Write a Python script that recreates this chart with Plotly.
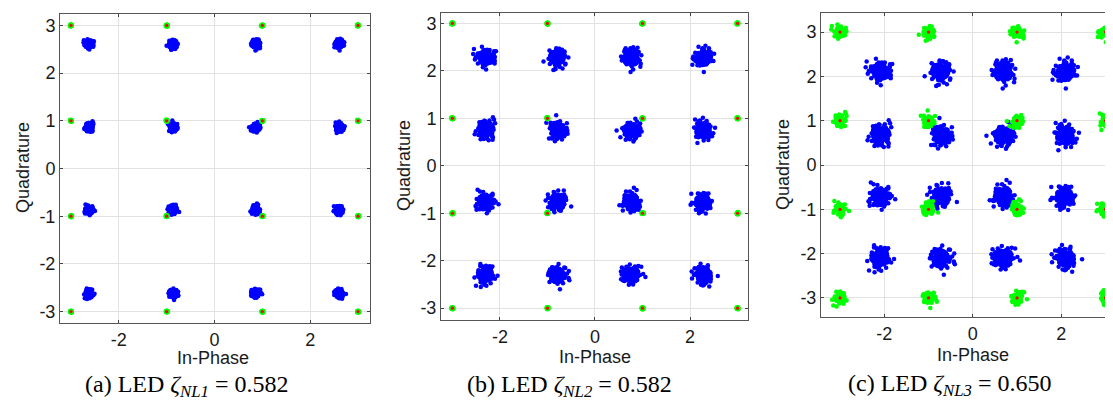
import math
import plotly.graph_objects as go

# ---------------- data ----------------
ideal_levels = [-3, -1, 1, 3]

# received cluster centres (In-Phase levels, Quadrature levels) per panel
blue_x_a = [-2.62, -0.87, 0.86, 2.61]
blue_y_a = [-2.62, -0.87, 0.87, 2.61]
blue_x_b = [-2.30, -0.79, 0.76, 2.28]
blue_y_b = [-2.30, -0.76, 0.76, 2.28]
blue_x_c = [-2.09, -0.72, 0.69, 2.09]
blue_y_c = [-2.10, -0.71, 0.68, 2.11]

# cloud spread (std, constellation units) per panel
spread_a = 0.045
spread_b = 0.1
spread_c = 0.125
green_spread_a = 0.008
green_spread_b = 0.008
green_spread_c = 0.075

# hand-written noise template in polar form (radius in std units, angle in degrees)
noise_r = [0.42, 1.35, 0.88, 2.05, 1.12, 0.25, 1.71, 0.63, 1.48, 0.95,
           2.42, 0.74, 1.20, 0.33, 1.86, 1.02, 0.55, 1.59, 2.75, 0.81,
           1.28, 0.47, 1.94, 1.07, 0.68, 1.41, 0.18, 2.21, 1.16, 0.90,
           1.63, 0.59, 1.33, 3.05, 0.77, 1.52, 0.38, 1.79, 1.24, 0.99,
           2.12, 0.52, 1.44, 0.85, 1.67, 0.29, 1.10, 2.55, 0.71, 1.37,
           0.93, 1.82, 0.45, 1.19, 2.30, 0.64, 1.55, 1.04, 0.36, 1.99]
noise_ang = [12, 217, 95, 301, 158, 43, 262, 129, 345, 74,
             193, 281, 27, 236, 110, 322, 167, 58, 248, 139,
             5, 205, 88, 313, 176, 35, 270, 121, 353, 66,
             184, 292, 19, 228, 102, 331, 149, 51, 257, 132,
             338, 81, 199, 306, 164, 24, 243, 116, 287, 70,
             211, 147, 356, 32, 274, 188, 98, 318, 226, 61]
# re-pairings of the template (angle index shift, relative scale)
pairings_blue = [(0, 1.0), (19, 0.82), (41, 0.62), (7, 0.42)]
pairings_green = [(0, 1.0)]

x_ticks = [-2, 0, 2]
x_tick_text = ["-2", "0", "2"]
y_ticks = [-3, -2, -1, 0, 1, 2, 3]
y_tick_text = ["-3", "-2", "-1", "0", "1", "2", "3"]

captions = ["(a) LED <i>ζ</i><sub><i>NL1</i></sub> = 0.582",
            "(b) LED <i>ζ</i><sub><i>NL2</i></sub> = 0.582",
            "(c) LED <i>ζ</i><sub><i>NL3</i></sub> = 0.650"]


def cloud(xs, ys, sd, n_pts, pairings):
    px, py = [], []
    k = 0
    n = len(noise_r)
    for yc in ys:
        for xc in xs:
            for shift, sc in pairings:
                for i in range(n_pts):
                    r = noise_r[i]
                    a = math.radians(noise_ang[(i + shift + 5 * k) % n] + 23 * k)
                    px.append(xc + sc * sd * r * math.cos(a))
                    py.append(yc + sc * sd * r * math.sin(a))
            k += 1
    return px, py


W, H = 1113, 401
panels = [
    dict(bx=blue_x_a, by=blue_y_a, sd=spread_a, gsd=green_spread_a,
         dom_x=(52, 362), dom_y=(6, 315), rx=[-3.23, 3.25], ry=[-3.24, 3.24],
         ylab=(15, 160), xlab=(205, 350), cap=(178, 362), fs=18, mirror_y=True),
    dict(bx=blue_x_b, by=blue_y_b, sd=spread_b, gsd=green_spread_b,
         dom_x=(433, 740), dom_y=(5, 312), rx=[-3.24, 3.22], ry=[-3.25, 3.22],
         ylab=(396, 158), xlab=(587, 349), cap=(561, 362), fs=18, mirror_y=True),
    dict(bx=blue_x_c, by=blue_y_c, sd=spread_c, gsd=green_spread_c,
         dom_x=(813, 1113), dom_y=(5, 309), rx=[-3.43, 3.35], ry=[-3.43, 3.43],
         ylab=(775, 157), xlab=(965, 347), cap=(941, 361), fs=18, mirror_y=False),
]

fig = go.Figure()
ann = []
for i, p in enumerate(panels):
    s = "" if i == 0 else str(i + 1)
    xa, ya = "x" + s, "y" + s
    bx, by = cloud(p["bx"], p["by"], p["sd"], 60, pairings_blue)
    fig.add_trace(go.Scatter(x=bx, y=by, mode="markers", xaxis=xa, yaxis=ya,
                             marker=dict(color="#0000ff", size=4.5, line=dict(width=0)),
                             showlegend=False, hoverinfo="skip"))
    if i == 2:
        gx, gy = cloud(ideal_levels, ideal_levels, p["gsd"], 45, pairings_green)
        gsize = 4.5
    else:
        gx, gy = cloud(ideal_levels, ideal_levels, p["gsd"], 6, pairings_green)
        gsize = 5.5
    fig.add_trace(go.Scatter(x=gx, y=gy, mode="markers", xaxis=xa, yaxis=ya,
                             marker=dict(color="#00ff00", size=gsize, line=dict(width=0)),
                             showlegend=False, hoverinfo="skip"))
    rx = [x for y in ideal_levels for x in ideal_levels]
    ry = [y for y in ideal_levels for x in ideal_levels]
    fig.add_trace(go.Scatter(x=rx, y=ry, mode="markers", xaxis=xa, yaxis=ya,
                             marker=dict(color="#ff0000", size=3.2, line=dict(width=0)),
                             showlegend=False, hoverinfo="skip"))

    x0, x1 = p["dom_x"]
    y0, y1 = p["dom_y"]
    tickfont = dict(family="Liberation Sans", size=p["fs"], color="#1a1a1a")
    fig.update_layout(**{
        ("xaxis" + s): dict(domain=[x0 / W, x1 / W], range=p["rx"], anchor=ya,
                            tickvals=x_ticks, ticktext=x_tick_text,
                            ticks="inside", ticklen=3, tickcolor="#444",
                            showline=True, linecolor="#555", linewidth=1, mirror="ticks",
                            showgrid=True, gridcolor="#e2e2e2", gridwidth=1,
                            zeroline=False, tickfont=tickfont, fixedrange=True),
        ("yaxis" + s): dict(domain=[1 - y1 / H, 1 - y0 / H], range=p["ry"], anchor=xa,
                            tickvals=y_ticks, ticktext=y_tick_text,
                            ticks="inside", ticklen=3, tickcolor="#444",
                            showline=True, linecolor="#555", linewidth=1,
                            mirror="ticks" if p["mirror_y"] else False,
                            showgrid=True, gridcolor="#e2e2e2", gridwidth=1,
                            zeroline=False, tickfont=tickfont, fixedrange=True),
    })
    lab_font = dict(family="Liberation Sans", size=p["fs"], color="#1a1a1a")
    ann.append(dict(text="Quadrature", x=p["ylab"][0] / W, y=1 - p["ylab"][1] / H,
                    xref="paper", yref="paper", showarrow=False, textangle=-90,
                    font=lab_font, xanchor="center", yanchor="middle"))
    ann.append(dict(text="In-Phase", x=p["xlab"][0] / W, y=1 - p["xlab"][1] / H,
                    xref="paper", yref="paper", showarrow=False,
                    font=lab_font, xanchor="center", yanchor="middle", borderpad=0))
    ann.append(dict(text=captions[i], x=p["cap"][0] / W, y=1 - p["cap"][1] / H,
                    xref="paper", yref="paper", showarrow=False,
                    font=dict(family="Liberation Serif", size=24, color="#000"),
                    xanchor="center", yanchor="top", borderpad=0))

fig.update_layout(width=W, height=H, margin=dict(l=0, r=0, t=0, b=0),
                  paper_bgcolor="white", plot_bgcolor="white", annotations=ann)
fig.write_html("out.html")
